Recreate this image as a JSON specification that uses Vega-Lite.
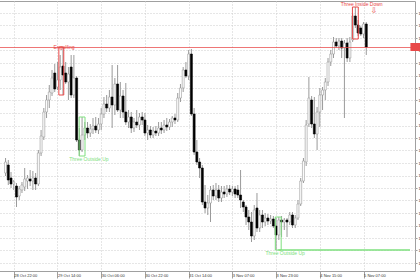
{
"$schema": "https://vega.github.io/schema/vega-lite/v6.json",
"width": 416, "height": 270,
"autosize": {"type": "none"},
"padding": {"left": -1, "top": 1, "right": 5, "bottom": 9},
"background": "white",
"config": {"view": {"stroke": "#a0a0a0", "strokeWidth": 1}, "font": "Liberation Sans"},
"datasets": {
"candles": [
{"i":0,"o":1.15360,"h":1.15420,"l":1.15348,"c":1.15404},
{"i":1,"o":1.15392,"h":1.15412,"l":1.15312,"c":1.15332},
{"i":2,"o":1.15340,"h":1.15364,"l":1.15300,"c":1.15316},
{"i":3,"o":1.15316,"h":1.15332,"l":1.15292,"c":1.15324},
{"i":4,"o":1.15308,"h":1.15320,"l":1.15224,"c":1.15264},
{"i":5,"o":1.15268,"h":1.15308,"l":1.15252,"c":1.15296},
{"i":6,"o":1.15292,"h":1.15324,"l":1.15280,"c":1.15312},
{"i":7,"o":1.15304,"h":1.15380,"l":1.15288,"c":1.15336},
{"i":8,"o":1.15328,"h":1.15352,"l":1.15296,"c":1.15340},
{"i":9,"o":1.15336,"h":1.15372,"l":1.15308,"c":1.15328},
{"i":10,"o":1.15328,"h":1.15368,"l":1.15292,"c":1.15340},
{"i":11,"o":1.15340,"h":1.15360,"l":1.15292,"c":1.15316},
{"i":12,"o":1.15316,"h":1.15452,"l":1.15308,"c":1.15440},
{"i":13,"o":1.15440,"h":1.15532,"l":1.15428,"c":1.15508},
{"i":14,"o":1.15504,"h":1.15620,"l":1.15492,"c":1.15604},
{"i":15,"o":1.15604,"h":1.15672,"l":1.15580,"c":1.15652},
{"i":16,"o":1.15652,"h":1.15712,"l":1.15620,"c":1.15684},
{"i":17,"o":1.15680,"h":1.15772,"l":1.15668,"c":1.15740},
{"i":18,"o":1.15760,"h":1.15796,"l":1.15684,"c":1.15696},
{"i":19,"o":1.15704,"h":1.15804,"l":1.15692,"c":1.15732},
{"i":20,"o":1.15732,"h":1.15832,"l":1.15692,"c":1.15784},
{"i":21,"o":1.15788,"h":1.15864,"l":1.15672,"c":1.15752},
{"i":22,"o":1.15760,"h":1.15804,"l":1.15716,"c":1.15724},
{"i":23,"o":1.15724,"h":1.15784,"l":1.15652,"c":1.15756},
{"i":24,"o":1.15784,"h":1.15832,"l":1.15660,"c":1.15672},
{"i":25,"o":1.15672,"h":1.15832,"l":1.15660,"c":1.15740},
{"i":26,"o":1.15740,"h":1.15748,"l":1.15484,"c":1.15492},
{"i":27,"o":1.15492,"h":1.15540,"l":1.15428,"c":1.15452},
{"i":28,"o":1.15452,"h":1.15584,"l":1.15444,"c":1.15512},
{"i":29,"o":1.15512,"h":1.15564,"l":1.15492,"c":1.15540},
{"i":30,"o":1.15540,"h":1.15564,"l":1.15500,"c":1.15520},
{"i":31,"o":1.15520,"h":1.15556,"l":1.15504,"c":1.15536},
{"i":32,"o":1.15536,"h":1.15580,"l":1.15516,"c":1.15548},
{"i":33,"o":1.15548,"h":1.15584,"l":1.15520,"c":1.15532},
{"i":34,"o":1.15532,"h":1.15580,"l":1.15516,"c":1.15556},
{"i":35,"o":1.15556,"h":1.15620,"l":1.15532,"c":1.15596},
{"i":36,"o":1.15596,"h":1.15664,"l":1.15580,"c":1.15636},
{"i":37,"o":1.15636,"h":1.15672,"l":1.15604,"c":1.15620},
{"i":38,"o":1.15620,"h":1.15692,"l":1.15604,"c":1.15664},
{"i":39,"o":1.15664,"h":1.15792,"l":1.15540,"c":1.15632},
{"i":40,"o":1.15632,"h":1.15740,"l":1.15592,"c":1.15716},
{"i":41,"o":1.15716,"h":1.15792,"l":1.15604,"c":1.15612},
{"i":42,"o":1.15612,"h":1.15724,"l":1.15580,"c":1.15668},
{"i":43,"o":1.15668,"h":1.15692,"l":1.15580,"c":1.15604},
{"i":44,"o":1.15604,"h":1.15720,"l":1.15552,"c":1.15564},
{"i":45,"o":1.15564,"h":1.15612,"l":1.15540,"c":1.15584},
{"i":46,"o":1.15584,"h":1.15604,"l":1.15520,"c":1.15540},
{"i":47,"o":1.15540,"h":1.15580,"l":1.15524,"c":1.15564},
{"i":48,"o":1.15564,"h":1.15612,"l":1.15540,"c":1.15552},
{"i":49,"o":1.15552,"h":1.15600,"l":1.15532,"c":1.15584},
{"i":50,"o":1.15584,"h":1.15604,"l":1.15552,"c":1.15572},
{"i":51,"o":1.15572,"h":1.15600,"l":1.15508,"c":1.15520},
{"i":52,"o":1.15520,"h":1.15552,"l":1.15492,"c":1.15532},
{"i":53,"o":1.15532,"h":1.15548,"l":1.15500,"c":1.15512},
{"i":54,"o":1.15512,"h":1.15544,"l":1.15500,"c":1.15528},
{"i":55,"o":1.15528,"h":1.15548,"l":1.15508,"c":1.15520},
{"i":56,"o":1.15520,"h":1.15564,"l":1.15508,"c":1.15540},
{"i":57,"o":1.15540,"h":1.15564,"l":1.15516,"c":1.15532},
{"i":58,"o":1.15532,"h":1.15572,"l":1.15520,"c":1.15552},
{"i":59,"o":1.15552,"h":1.15580,"l":1.15528,"c":1.15544},
{"i":60,"o":1.15544,"h":1.15576,"l":1.15532,"c":1.15564},
{"i":61,"o":1.15564,"h":1.15588,"l":1.15544,"c":1.15580},
{"i":62,"o":1.15580,"h":1.15596,"l":1.15556,"c":1.15572},
{"i":63,"o":1.15572,"h":1.15680,"l":1.15564,"c":1.15660},
{"i":64,"o":1.15660,"h":1.15716,"l":1.15644,"c":1.15700},
{"i":65,"o":1.15700,"h":1.15784,"l":1.15684,"c":1.15772},
{"i":66,"o":1.15772,"h":1.15804,"l":1.15740,"c":1.15748},
{"i":67,"o":1.15748,"h":1.15852,"l":1.15732,"c":1.15836},
{"i":68,"o":1.15836,"h":1.15856,"l":1.15588,"c":1.15596},
{"i":69,"o":1.15596,"h":1.15620,"l":1.15432,"c":1.15444},
{"i":70,"o":1.15444,"h":1.15492,"l":1.15392,"c":1.15404},
{"i":71,"o":1.15404,"h":1.15420,"l":1.15340,"c":1.15380},
{"i":72,"o":1.15380,"h":1.15392,"l":1.15232,"c":1.15244},
{"i":73,"o":1.15244,"h":1.15312,"l":1.15200,"c":1.15220},
{"i":74,"o":1.15220,"h":1.15272,"l":1.15192,"c":1.15240},
{"i":75,"o":1.15240,"h":1.15308,"l":1.15164,"c":1.15292},
{"i":76,"o":1.15292,"h":1.15312,"l":1.15252,"c":1.15268},
{"i":77,"o":1.15268,"h":1.15320,"l":1.15252,"c":1.15292},
{"i":78,"o":1.15292,"h":1.15312,"l":1.15244,"c":1.15260},
{"i":79,"o":1.15260,"h":1.15308,"l":1.15244,"c":1.15284},
{"i":80,"o":1.15284,"h":1.15308,"l":1.15260,"c":1.15276},
{"i":81,"o":1.15276,"h":1.15312,"l":1.15264,"c":1.15296},
{"i":82,"o":1.15296,"h":1.15312,"l":1.15272,"c":1.15284},
{"i":83,"o":1.15284,"h":1.15308,"l":1.15268,"c":1.15296},
{"i":84,"o":1.15296,"h":1.15308,"l":1.15260,"c":1.15276},
{"i":85,"o":1.15292,"h":1.15312,"l":1.15260,"c":1.15272},
{"i":86,"o":1.15272,"h":1.15372,"l":1.15220,"c":1.15252},
{"i":87,"o":1.15244,"h":1.15252,"l":1.15204,"c":1.15224},
{"i":88,"o":1.15224,"h":1.15232,"l":1.15152,"c":1.15184},
{"i":89,"o":1.15184,"h":1.15212,"l":1.15132,"c":1.15164},
{"i":90,"o":1.15164,"h":1.15204,"l":1.15084,"c":1.15108},
{"i":91,"o":1.15108,"h":1.15232,"l":1.15092,"c":1.15212},
{"i":92,"o":1.15220,"h":1.15280,"l":1.15124,"c":1.15140},
{"i":93,"o":1.15140,"h":1.15212,"l":1.15124,"c":1.15192},
{"i":94,"o":1.15192,"h":1.15212,"l":1.15140,"c":1.15164},
{"i":95,"o":1.15164,"h":1.15200,"l":1.15148,"c":1.15180},
{"i":96,"o":1.15180,"h":1.15196,"l":1.15152,"c":1.15168},
{"i":97,"o":1.15168,"h":1.15192,"l":1.15156,"c":1.15176},
{"i":98,"o":1.15176,"h":1.15188,"l":1.15140,"c":1.15148},
{"i":99,"o":1.15148,"h":1.15180,"l":1.15052,"c":1.15112},
{"i":100,"o":1.15112,"h":1.15184,"l":1.15092,"c":1.15172},
{"i":101,"o":1.15172,"h":1.15188,"l":1.15104,"c":1.15164},
{"i":102,"o":1.15164,"h":1.15180,"l":1.15132,"c":1.15172},
{"i":103,"o":1.15172,"h":1.15180,"l":1.15104,"c":1.15164},
{"i":104,"o":1.15164,"h":1.15204,"l":1.15152,"c":1.15192},
{"i":105,"o":1.15192,"h":1.15204,"l":1.15140,"c":1.15152},
{"i":106,"o":1.15152,"h":1.15192,"l":1.15140,"c":1.15180},
{"i":107,"o":1.15180,"h":1.15252,"l":1.15172,"c":1.15236},
{"i":108,"o":1.15236,"h":1.15340,"l":1.15228,"c":1.15328},
{"i":109,"o":1.15328,"h":1.15420,"l":1.15320,"c":1.15408},
{"i":110,"o":1.15404,"h":1.15572,"l":1.15388,"c":1.15552},
{"i":111,"o":1.15556,"h":1.15744,"l":1.15544,"c":1.15660},
{"i":112,"o":1.15652,"h":1.15668,"l":1.15540,"c":1.15556},
{"i":113,"o":1.15556,"h":1.15664,"l":1.15500,"c":1.15516},
{"i":114,"o":1.15516,"h":1.15624,"l":1.15452,"c":1.15604},
{"i":115,"o":1.15604,"h":1.15700,"l":1.15544,"c":1.15672},
{"i":116,"o":1.15672,"h":1.15704,"l":1.15612,"c":1.15692},
{"i":117,"o":1.15692,"h":1.15740,"l":1.15652,"c":1.15724},
{"i":118,"o":1.15724,"h":1.15820,"l":1.15708,"c":1.15804},
{"i":119,"o":1.15804,"h":1.15852,"l":1.15788,"c":1.15836},
{"i":120,"o":1.15836,"h":1.15904,"l":1.15820,"c":1.15884},
{"i":121,"o":1.15884,"h":1.15900,"l":1.15860,"c":1.15868},
{"i":122,"o":1.15868,"h":1.15900,"l":1.15852,"c":1.15888},
{"i":123,"o":1.15888,"h":1.15900,"l":1.15820,"c":1.15860},
{"i":124,"o":1.15860,"h":1.15892,"l":1.15580,"c":1.15880},
{"i":125,"o":1.15880,"h":1.15900,"l":1.15804,"c":1.15820},
{"i":126,"o":1.15820,"h":1.15904,"l":1.15804,"c":1.15884},
{"i":127,"o":1.15892,"h":1.16000,"l":1.15884,"c":1.15988},
{"i":128,"o":1.15988,"h":1.16024,"l":1.15940,"c":1.15952},
{"i":129,"o":1.15952,"h":1.15972,"l":1.15908,"c":1.15920},
{"i":130,"o":1.15940,"h":1.15948,"l":1.15908,"c":1.15916},
{"i":131,"o":1.15916,"h":1.15964,"l":1.15900,"c":1.15956},
{"i":132,"o":1.15956,"h":1.15964,"l":1.15832,"c":1.15864}
],
"boxes": [
{"i1":19.5,"i2":21.3,"p1":1.15864,"p2":1.15672,"kind":"bear"},
{"i1":26.93,"i2":29.07,"p1":1.15584,"p2":1.15428,"kind":"bull"},
{"i1":98.71,"i2":100.86,"p1":1.15184,"p2":1.15052,"kind":"bull"},
{"i1":126.93,"i2":129.07,"p1":1.16024,"p2":1.15896,"kind":"bear"}
],
"texts": [
{"i":21.4,"p":1.15866,"text":"Engulfing","kind":"bear"},
{"i":30.5,"p":1.15416,"text":"Three Outside Up","kind":"bull"},
{"i":102.3,"p":1.15040,"text":"Three Outside Up","kind":"bull"},
{"i":130.3,"p":1.16036,"text":"Three Inside Down","kind":"bear"}
],
"arrows": [{"i":134.8,"p":1.16008,"text":"⇩","kind":"bear"}],
"levels": [{"p":1.15862,"kind":"bear"}],
"support": [{"i1":99.8,"i2":148,"p":1.15052,"kind":"bull"}],
"tag": [{"i1":148.15,"i2":152,"p1":1.15880,"p2":1.15848}]
},
"layer": [
{"data": {"name": "candles"},
 "mark": {"type": "rule", "color": "#9a9a9a", "strokeWidth": 1},
 "encoding": {
  "x": {"field": "i", "type": "quantitative", "title": null,
        "scale": {"domain": [-0.5714, 148], "nice": false, "zero": false},
        "axis": {"orient": "bottom", "domain": false, "values": [3,11,19,27,35,43,51,59,67,75,83,91,99,107,115,123,131],
                 "labelExpr": "['28 Oct 22:00','29 Oct 06:00','29 Oct 14:00','29 Oct 22:00','30 Oct 06:00','30 Oct 14:00','30 Oct 22:00','31 Oct 06:00','31 Oct 14:00','31 Oct 22:00','3 Nov 07:00','3 Nov 15:00','3 Nov 23:00','4 Nov 07:00','4 Nov 15:00','4 Nov 23:00','5 Nov 07:00'][(datum.value-3)/8]",
                 "labelAlign": "left", "labelBaseline": "top", "labelPadding": -4.5, "labelDx": 1.5,
                 "labelFontSize": 4, "labelColor": "#333333", "labelOverlap": false, "labelFlush": false, "labelBound": false,
                 "tickSize": 7, "tickColor": "#a0a0a0", "tickWidth": 1,
                 "grid": true, "gridColor": "#cccccc", "gridDash": [1, 2], "gridWidth": 1}},
  "y": {"field": "l", "type": "quantitative", "title": null,
        "scale": {"domain": [1.14968, 1.16048], "nice": false, "zero": false},
        "axis": {"orient": "right", "domain": false, "tickCount": 21, "values": [1.15,1.1505,1.151,1.1515,1.152,1.1525,1.153,1.1535,1.154,1.1545,1.155,1.1555,1.156,1.1565,1.157,1.1575,1.158,1.1585,1.159,1.1595,1.16],
                 "format": ".5f", "labelFontSize": 4, "labelColor": "#333333", "labelPadding": 1, "labelOverlap": false, "labelFlush": false, "labelBound": false,
                 "tickSize": 2, "tickColor": "#a0a0a0",
                 "grid": true, "gridColor": "#cccccc", "gridDash": [1, 2], "gridWidth": 1}},
  "y2": {"field": "h"}
 }},
{"data": {"name": "candles"},
 "mark": {"type": "bar", "size": 2, "strokeWidth": 0.6},
 "encoding": {
  "x": {"field": "i", "type": "quantitative"},
  "y": {"field": "o", "type": "quantitative"},
  "y2": {"field": "c"},
  "fill": {"condition": {"test": "datum.c >= datum.o", "value": "#ffffff"}, "value": "#000000"},
  "stroke": {"condition": {"test": "datum.c >= datum.o", "value": "#9a9a9a"}, "value": "#000000"}
 }},
{"data": {"name": "levels"},
 "mark": {"type": "rule", "strokeWidth": 1, "opacity": 0.75},
 "encoding": {
  "y": {"field": "p", "type": "quantitative"},
  "color": {"field": "kind", "type": "nominal", "scale": {"domain": ["bear","bull"], "range": ["#e84848","#7ee07e"]}, "legend": null}
 }},
{"data": {"name": "support"},
 "mark": {"type": "rule", "strokeWidth": 1.5},
 "encoding": {
  "x": {"field": "i1", "type": "quantitative"},
  "x2": {"field": "i2"},
  "y": {"field": "p", "type": "quantitative"},
  "color": {"field": "kind", "type": "nominal", "legend": null}
 }},
{"data": {"name": "boxes"},
 "mark": {"type": "rect", "fill": null, "strokeWidth": 1},
 "encoding": {
  "x": {"field": "i1", "type": "quantitative"},
  "x2": {"field": "i2"},
  "y": {"field": "p1", "type": "quantitative"},
  "y2": {"field": "p2"},
  "stroke": {"field": "kind", "type": "nominal", "scale": {"domain": ["bear","bull"], "range": ["#e84848","#7ee07e"]}, "legend": null}
 }},
{"data": {"name": "texts"},
 "mark": {"type": "text", "fontSize": 5, "align": "center", "baseline": "middle"},
 "encoding": {
  "x": {"field": "i", "type": "quantitative"},
  "y": {"field": "p", "type": "quantitative"},
  "text": {"field": "text"},
  "color": {"field": "kind", "type": "nominal", "legend": null}
 }},
{"data": {"name": "arrows"},
 "mark": {"type": "text", "fontSize": 8, "font": "DejaVu Sans", "align": "center", "baseline": "middle"},
 "encoding": {
  "x": {"field": "i", "type": "quantitative"},
  "y": {"field": "p", "type": "quantitative"},
  "text": {"field": "text"},
  "color": {"field": "kind", "type": "nominal", "legend": null}
 }},
{"data": {"name": "tag"},
 "mark": {"type": "rect", "color": "#e84848"},
 "encoding": {
  "x": {"field": "i1", "type": "quantitative"},
  "x2": {"field": "i2"},
  "y": {"field": "p1", "type": "quantitative"},
  "y2": {"field": "p2"}
 }}
]
}
